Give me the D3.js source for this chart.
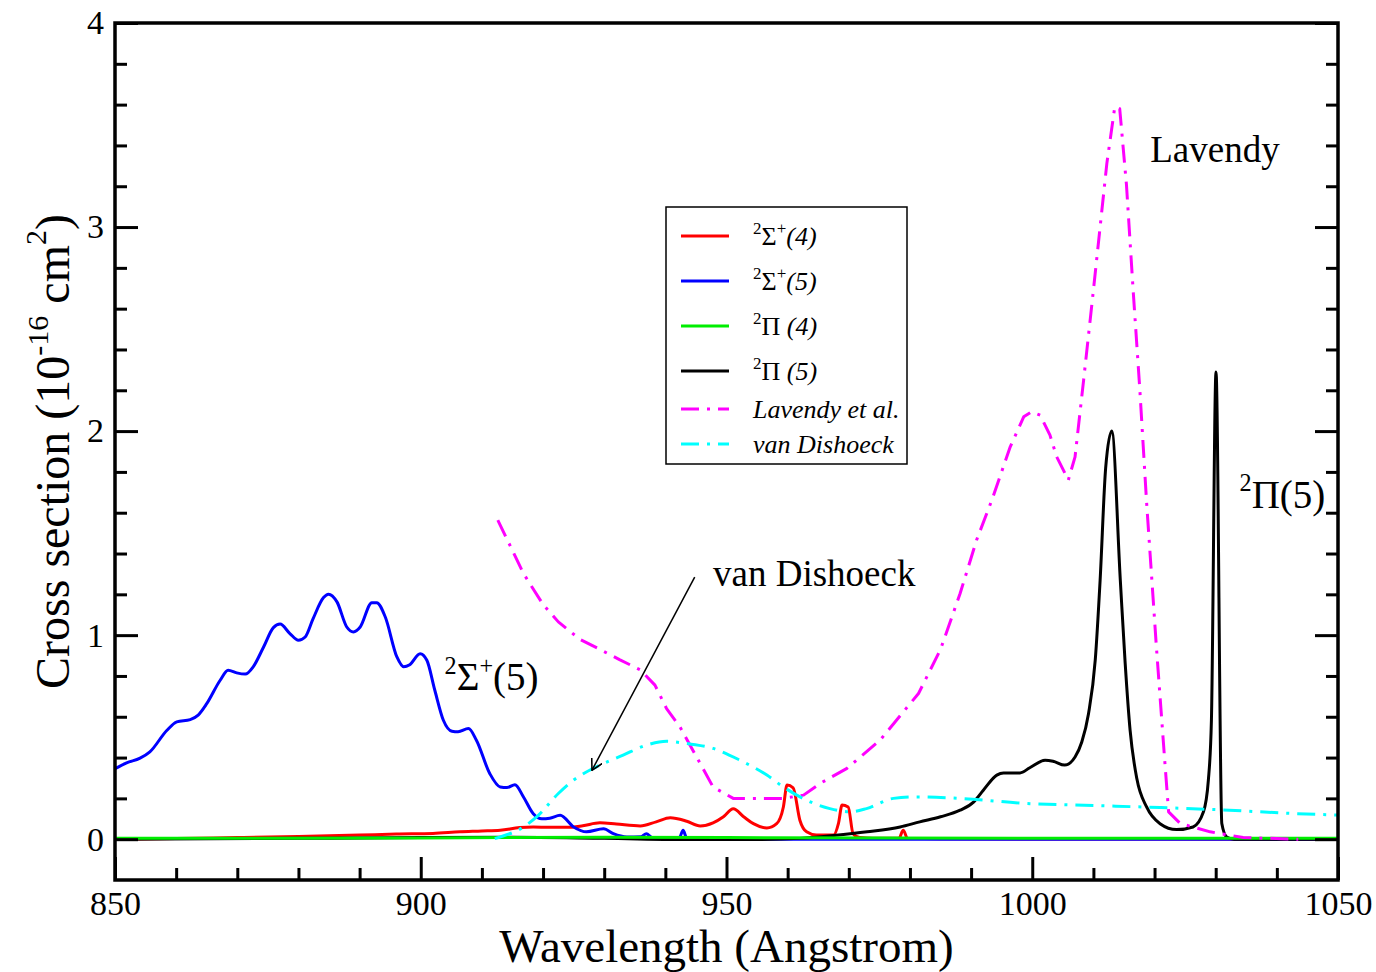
<!DOCTYPE html>
<html>
  <head>
    <meta charset="utf-8" />
    <script src="https://d3js.org/d3.v7.min.js"></script>
    <title>Cross section</title>
    <style>
        body { margin: 0; background: #fff; }
        text { font-family: "Liberation Serif", "Times New Roman", serif; fill: #000; }
    </style>
  </head>
  <body>
    <svg id="chart" width="1376" height="972"></svg>

    <script>
    // axis ticks
    var xMajor = [850, 900, 950, 1000, 1050];
    var xMinor = [860, 870, 880, 890, 910, 920, 930, 940, 960, 970, 980, 990, 1010, 1020, 1030, 1040];
    var yMajor = [0, 1, 2, 3, 4];
    var yMinor = [0.2, 0.4, 0.6, 0.8, 1.2, 1.4, 1.6, 1.8, 2.2, 2.4, 2.6, 2.8, 3.2, 3.4, 3.6, 3.8];

    // series: [wavelength, cross section]
    var sigma4 = [[850,0.0],[860,0.003],[870,0.008],[880,0.013],[890,0.02],[896,0.025],[902,0.028],[906.4,0.036],
        [910,0.04],[913,0.044],[916.2,0.057],[918.4,0.06],[921,0.058],[923.9,0.058],[926.5,0.066],[929.3,0.08],
        [932,0.074],[935.9,0.065],[938.5,0.085],[940.8,0.105],[943.5,0.088],[945.7,0.065],[947.8,0.08],[949.5,0.11],
        [951.1,0.149],[952.8,0.11],[954.4,0.076],[956.6,0.055],[958.2,0.076],[959.3,0.158],[959.9,0.265],[960.9,0.252],
        [962,0.093],[963.1,0.036],[964.7,0.02],[967.5,0.02],[968.3,0.076],[968.9,0.167],[969.9,0.158],[970.7,0.027],
        [971.8,0.008],[974,0.004],[978.2,0.004],[978.9,0.044],[979.6,0.004],[985,0.002],[1050,0.0]];

    var sigma5 = [[850,0.345],[851.9,0.374],[854.1,0.397],[855.7,0.428],[858.5,0.534],[860.1,0.575],[862.3,0.586],
        [863.6,0.608],[865,0.664],[867.2,0.779],[868.5,0.828],[869.9,0.815],[871.3,0.809],[872.6,0.845],[874.3,0.942],
        [875.9,1.037],[877,1.054],[878.6,1.008],[880,0.975],[881.1,0.991],[882.4,1.081],[884.1,1.184],[884.9,1.201],
        [886.3,1.163],[887.9,1.04],[889,1.016],[890.1,1.04],[892,1.159],[892.8,1.159],[894.2,1.089],[896.1,0.893],
        [897.2,0.845],[898.2,0.855],[899.9,0.909],[901,0.877],[902.3,0.73],[903.7,0.583],[905.1,0.529],[906.1,0.526],
        [907.8,0.542],[909.1,0.485],[911.3,0.321],[913,0.256],[914.1,0.253],[915.4,0.267],[916.8,0.207],[918.4,0.125],
        [919.8,0.1],[921.1,0.103],[922.8,0.117],[925,0.06],[927.1,0.036],[929.9,0.051],[931.5,0.027],[933.7,0.011],
        [936,0.012],[936.9,0.027],[937.8,0.008],[940,0.004],[942.3,0.008],[942.9,0.044],[943.5,0.005],[950,0.0],
        [1000,0.0],[1050,0.0]];

    var pi4 = [[850,0.004],[900,0.006],[930,0.01],[950,0.008],[1000,0.005],[1050,0.005]];

    var pi5 = [[850,0.0],[880,0.004],[900,0.008],[915,0.009],[930,0.004],[945,-0.002],[955,-0.002],[962,0.004],
        [967.5,0.018],[973,0.036],[978.4,0.06],[981.6,0.085],[985,0.11],[988.2,0.142],[990.4,0.182],[992,0.24],
        [994.2,0.314],[995.3,0.325],[998,0.325],[999.6,0.35],[1002.1,0.387],[1003.4,0.382],[1005.3,0.363],[1007,0.403],
        [1008.1,0.476],[1009.2,0.615],[1010.3,0.877],[1011.1,1.27],[1012,1.817],[1013,2.0],[1014.4,1.27],[1015.2,0.86],
        [1016,0.534],[1017.1,0.297],[1018.7,0.158],[1020.9,0.076],[1023.6,0.047],[1026.3,0.06],[1028,0.134],
        [1028.8,0.289],[1029.3,0.583],[1030.05,2.29],[1031,0.077],[1031.8,0.011],[1033,0.0],[1050,0.0]];

    var lavendy = [[912.6,1.564],[916.8,1.302],[920,1.15],[922.5,1.065],[926,0.98],[929.3,0.93],[932.5,0.88],
        [935.9,0.83],[938.3,0.755],[940.2,0.64],[942.4,0.55],[945.7,0.371],[947.8,0.256],[951.1,0.2],[959.3,0.2],
        [962.6,0.216],[965.3,0.273],[969.7,0.347],[975.1,0.485],[981.4,0.714],[985,0.93],[988.2,1.204],[990.9,1.466],
        [993.4,1.662],[996.4,1.923],[998.6,2.07],[999.9,2.095],[1001.3,2.078],[1002.9,1.98],[1004,1.874],[1005.9,1.76],
        [1007,1.874],[1008.4,2.25],[1010,2.69],[1012.2,3.312],[1013.5,3.59],[1014.3,3.58],[1015.4,3.21],[1016.5,2.69],
        [1017.6,2.2],[1018.7,1.65],[1020.3,0.943],[1021.7,0.371],[1022.3,0.134],[1024.2,0.077],[1029.1,0.036],
        [1034.5,0.008],[1043.5,0.0]];

    var dishoeck = [[912.1,0.003],[916.8,0.06],[919,0.11],[922.5,0.224],[925,0.29],[928.2,0.347],[933.1,0.412],
        [936.9,0.461],[940.2,0.48],[943.4,0.469],[947.8,0.445],[952.2,0.387],[956.6,0.314],[959.3,0.256],[963.1,0.191],
        [966.9,0.15],[970.2,0.134],[972.9,0.15],[977.3,0.2],[981.1,0.207],[988.2,0.2],[999.1,0.175],[1010,0.165],
        [1020.9,0.155],[1030,0.145],[1042.7,0.126],[1050,0.118]];

    var series = [
        {name: "s4", data: sigma4, color: "#ff0000", dash: null, curve: d3.curveMonotoneX},
        {name: "s5", data: sigma5, color: "#0000ff", dash: null, curve: d3.curveMonotoneX},
        {name: "p5", data: pi5, color: "#000000", dash: null, curve: d3.curveMonotoneX},
        {name: "p4", data: pi4, color: "#00ee00", dash: null, curve: d3.curveLinear},
        {name: "lav", data: lavendy, color: "#ff00ff", dash: "18,8,3,8", curve: d3.curveLinear},
        {name: "vd", data: dishoeck, color: "#00ffff", dash: "18,8,3,8", curve: d3.curveMonotoneX}
    ];

    var svg = d3.select("#chart");
    var pLeft = 115, pRight = 1338, pTop = 23, pBottom = 880;

    var x = d3.scaleLinear().domain([850, 1050]).range([pLeft, pRight]);
    var y = d3.scaleLinear().domain([-0.2, 4]).range([pBottom, pTop]);

    var defs = svg.append("defs");
    defs.append("clipPath").attr("id", "clip")
        .append("rect").attr("x", pLeft).attr("y", pTop)
        .attr("width", pRight - pLeft).attr("height", pBottom - pTop);

    // curves
    var plot = svg.append("g").attr("clip-path", "url(#clip)");
    series.forEach(function(s){
        var line = d3.line()
            .x(function(d){ return x(d[0]); })
            .y(function(d){ return y(d[1]); })
            .curve(s.curve);
        plot.append("path")
            .datum(s.data)
            .attr("d", line)
            .attr("fill", "none")
            .attr("stroke", s.color)
            .attr("stroke-width", 3)
            .attr("stroke-linejoin", "round")
            .attr("stroke-dasharray", s.dash);
    });

    // axes
    function styleAxis(g){
        g.select(".domain").remove();
        g.selectAll("line").attr("stroke", "#000").attr("stroke-width", 3);
        g.selectAll("text").style("font-size", "34px").style("font-family", "Liberation Serif");
    }
    svg.append("g").attr("transform", "translate(0," + pBottom + ")")
        .call(d3.axisBottom(x).tickValues(xMajor).tickSize(-23).tickPadding(11).tickFormat(d3.format("d")))
        .call(styleAxis);
    svg.append("g").attr("transform", "translate(0," + pBottom + ")")
        .call(d3.axisBottom(x).tickValues(xMinor).tickSize(-12).tickFormat(""))
        .call(styleAxis);
    svg.append("g").attr("transform", "translate(" + pLeft + ",0)")
        .call(d3.axisLeft(y).tickValues(yMajor).tickSize(-23).tickPadding(11).tickFormat(d3.format("d")))
        .call(styleAxis);
    svg.append("g").attr("transform", "translate(" + pLeft + ",0)")
        .call(d3.axisLeft(y).tickValues(yMinor).tickSize(-12).tickFormat(""))
        .call(styleAxis);
    svg.append("g").attr("transform", "translate(" + pRight + ",0)")
        .call(d3.axisRight(y).tickValues(yMajor).tickSize(-23).tickFormat(""))
        .call(styleAxis);
    svg.append("g").attr("transform", "translate(" + pRight + ",0)")
        .call(d3.axisRight(y).tickValues(yMinor).tickSize(-12).tickFormat(""))
        .call(styleAxis);

    // frame
    svg.append("rect")
        .attr("x", pLeft).attr("y", pTop)
        .attr("width", pRight - pLeft).attr("height", pBottom - pTop)
        .attr("fill", "none").attr("stroke", "#000").attr("stroke-width", 3.5);

    // axis titles
    svg.append("text")
        .attr("x", (pLeft + pRight) / 2).attr("y", 962)
        .attr("text-anchor", "middle")
        .style("font-size", "47px")
        .text("Wavelength (Angstrom)");

    var yt = svg.append("text")
        .attr("transform", "translate(69," + ((pTop + pBottom) / 2) + ") rotate(-90)")
        .attr("text-anchor", "middle")
        .style("font-size", "48px");
    yt.append("tspan").text("Cross section (10");
    yt.append("tspan").attr("dy", -21).style("font-size", "30px").text("-16");
    yt.append("tspan").attr("dy", 21).text(" cm");
    yt.append("tspan").attr("dy", -23).style("font-size", "30px").text("2");
    yt.append("tspan").attr("dy", 23).text(")");

    // annotations
    function supLabel(px, py, size, parts){
        var t = svg.append("text").attr("x", x(px)).attr("y", y(py)).style("font-size", size + "px");
        parts.forEach(function(p){
            var sp = t.append("tspan").text(p.t);
            if (p.sup) sp.attr("dy", -0.42 * size).style("font-size", (size * 0.62) + "px");
            if (p.back) sp.attr("dy", 0.42 * size);
            if (p.it) sp.style("font-style", "italic");
        });
    }
    supLabel(1019.3, 3.32, 37, [{t: "Lavendy"}]);
    supLabel(947.8, 1.24, 37, [{t: "van Dishoeck"}]);
    supLabel(903.9, 0.73, 39, [{t: "2", sup: true}, {t: "Σ", back: true}, {t: "+", sup: true}, {t: "(5)", back: true}]);
    supLabel(1033.9, 1.625, 39, [{t: "2", sup: true}, {t: "Π(5)", back: true}]);

    // arrow
    var arrow = {from: [944.8, 1.284], to: [928.0, 0.338]};
    defs.append("marker")
        .attr("id", "head").attr("viewBox", "0 0 10 10")
        .attr("refX", 9).attr("refY", 5)
        .attr("markerWidth", 12).attr("markerHeight", 12)
        .attr("markerUnits", "userSpaceOnUse")
        .attr("orient", "auto")
        .append("path").attr("d", "M0,0 L9,5 L0,10")
        .attr("fill", "none").attr("stroke", "#000").attr("stroke-width", 1.3);
    svg.append("line")
        .attr("x1", x(arrow.from[0])).attr("y1", y(arrow.from[1]))
        .attr("x2", x(arrow.to[0])).attr("y2", y(arrow.to[1]))
        .attr("stroke", "#000").attr("stroke-width", 1.5)
        .attr("marker-end", "url(#head)");

    // legend
    var legendItems = [
        {parts: [{t: "2", sup: true}, {t: "Σ", back: true}, {t: "+", sup: true}, {t: "(4)", back: true, it: true}], s: series[0]},
        {parts: [{t: "2", sup: true}, {t: "Σ", back: true}, {t: "+", sup: true}, {t: "(5)", back: true, it: true}], s: series[1]},
        {parts: [{t: "2", sup: true}, {t: "Π", back: true}, {t: " (4)", it: true}], s: series[3]},
        {parts: [{t: "2", sup: true}, {t: "Π", back: true}, {t: " (5)", it: true}], s: series[2]},
        {parts: [{t: "Lavendy et al.", it: true}], s: series[4]},
        {parts: [{t: "van Dishoeck", it: true}], s: series[5]}
    ];
    var rowY = [236, 281, 326, 371, 409, 444];
    var lg = svg.append("g");
    lg.append("rect").attr("x", 666).attr("y", 207).attr("width", 241).attr("height", 257)
        .attr("fill", "#fff").attr("stroke", "#000").attr("stroke-width", 1.5);
    legendItems.forEach(function(item, i){
        lg.append("line").attr("x1", 681).attr("x2", 729).attr("y1", rowY[i]).attr("y2", rowY[i])
            .attr("stroke", item.s.color).attr("stroke-width", 3)
            .attr("stroke-dasharray", item.s.dash);
        var t = lg.append("text").attr("x", 753).attr("y", rowY[i] + 9).style("font-size", "26px");
        item.parts.forEach(function(p){
            var sp = t.append("tspan").text(p.t);
            if (p.sup) sp.attr("dy", -11).style("font-size", "17px");
            if (p.back) sp.attr("dy", 11);
            if (p.it) sp.style("font-style", "italic");
        });
    });
    </script>
  </body>
</html>
